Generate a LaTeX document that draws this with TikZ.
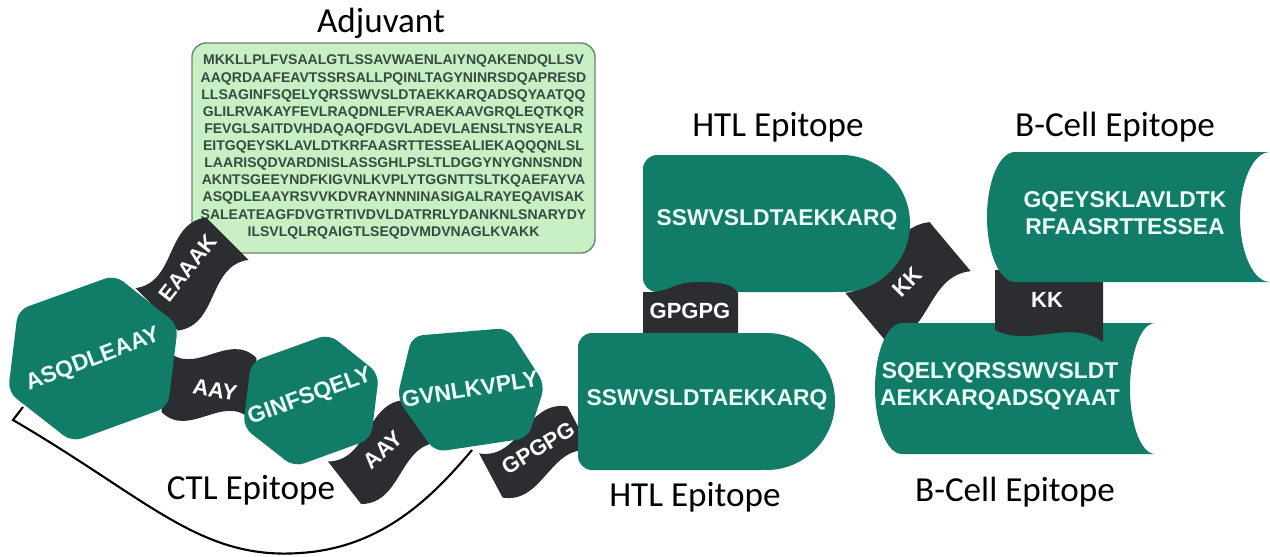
\documentclass[tikz,border=0pt]{standalone}
\usepackage{fontspec}
\setmainfont{Carlito}
\newfontfamily\seqfont{Liberation Sans}
\usepackage{tikz}

\definecolor{epigreen}{RGB}{17,124,104}
\definecolor{linkgray}{RGB}{43,45,49}
\definecolor{adjfill}{RGB}{200,240,196}
\definecolor{adjline}{RGB}{105,135,105}
\definecolor{adjtext}{RGB}{52,76,66}
\definecolor{seqwhite}{RGB}{236,255,248}

\begin{document}
\begin{tikzpicture}[x=0.02cm, y=-0.02cm]
    \tikzstyle{epiblock} = [fill=epigreen]
    \tikzstyle{linkblock} = [fill=linkgray]
    \tikzstyle{seqtext} = [text=seqwhite, font=\seqfont\bfseries\fontsize{13}{15.3}\selectfont, align=center, inner sep=0pt]
    \tikzstyle{linktext} = [text=white, font=\seqfont\bfseries\fontsize{12.5}{14}\selectfont, inner sep=0pt]
    \tikzstyle{headtext} = [font=\fontsize{20}{24}\selectfont, inner sep=0pt]
    \tikzstyle{adjbox} = [fill=adjfill, draw=adjline, line width=0.8pt, rounded corners=8]
    \tikzstyle{adjseq} = [text=adjtext, font=\seqfont\bfseries\fontsize{8}{9.75}\selectfont, align=center, inner sep=0pt]

    \useasboundingbox (0,0) rectangle (1270,556);

    % bracket under the CTL epitopes
    \coordinate (ctlA) at (23,407);
    \coordinate (ctlB) at (13,420);
    \coordinate (ctlC) at (300,553);
    \coordinate (ctlD) at (472,450);
    \draw[line width=1.2pt] (ctlA) -- (ctlB) .. controls (150,500) and (200,560) .. (ctlC)
        .. controls (380,548) and (430,500) .. (ctlD);

    % Adjuvant
    \draw[adjbox] (192,43) rectangle (595,253);
    \node[adjseq] (adjseq) at (393.5,147) {MKKLLPLFVSAALGTLSSAVWAENLAIYNQAKENDQLLSV\\
        AAQRDAAFEAVTSSRSALLPQINLTAGYNINRSDQAPRESD\\
        LLSAGINFSQELYQRSSWVSLDTAEKKARQADSQYAATQQ\\
        GLILRVAKAYFEVLRAQDNLEFVRAEKAAVGRQLEQTKQR\\
        FEVGLSAITDVHDAQAQFDGVLADEVLAENSLTNSYEALR\\
        EITGQEYSKLAVLDTKRFAASRTTESSEALIEKAQQQNLSL\\
        LAARISQDVARDNISLASSGHLPSLTLDGGYNYGNNSNDN\\
        AKNTSGEEYNDFKIGVNLKVPLYTGGNTTSLTKQAEFAYVA\\
        ASQDLEAAYRSVVKDVRAYNNNINASIGALRAYEQAVISAK\\
        SALEATEAGFDVGTRTIVDVLDATRRLYDANKNLSNARYDY\\
        ILSVLQLRQAIGTLSEQDVMDVNAGLKVAKK};

    % Linkers (under the blocks)
    \begin{scope}[shift={(192,274)}, rotate=45]
        \fill[linkblock] (-50,-30) .. controls (-17,-5) and (17,-55) .. (50,-30) -- (50,30) .. controls (17,5) and (-17,55) .. (-50,30) -- cycle;
    \end{scope}
    \begin{scope}[shift={(209,385)}, rotate=-5]
        \fill[linkblock] (-45,-31) .. controls (-15,-6) and (15,-56) .. (45,-31) -- (45,31) .. controls (15,6) and (-15,56) .. (-45,31) -- cycle;
    \end{scope}
    \begin{scope}[shift={(384,452)}, rotate=38]
        \fill[linkblock] (-50,-27) .. controls (-17,-2) and (17,-52) .. (50,-27) -- (50,27) .. controls (17,2) and (-17,52) .. (-50,27) -- cycle;
    \end{scope}
    \begin{scope}[shift={(535,452)}, rotate=28]
        \fill[linkblock] (-50,-25) .. controls (-17,0) and (17,-50) .. (50,-25) -- (50,25) .. controls (17,0) and (-17,50) .. (-50,25) -- cycle;
    \end{scope}
    \begin{scope}[shift={(908,282)}, rotate=40]
        \fill[linkblock] (-55,-32) .. controls (-18,-7) and (18,-57) .. (55,-32) -- (55,32) .. controls (18,7) and (-18,57) .. (-55,32) -- cycle;
    \end{scope}
    \node[linktext, rotate=52] (eaaak) at (188,268) {EAAAK};
    \node[linktext, rotate=-10] (aay1) at (215,390) {AAY};
    \node[linktext, rotate=42] (aay2) at (383,450) {AAY};
    \node[linktext, rotate=31] (gpgpg1) at (538,448) {GPGPG};
    \node[linktext, rotate=45] (kk1) at (907,282) {KK};

    % CTL epitopes
    \fill[epiblock, rounded corners=6] (18,310) -- (115,275) -- (178,325) -- (168,407) -- (72,442) -- (8,392) -- cycle;
    \fill[epiblock, rounded corners=6] (251,362) -- (329,334) -- (379,374) -- (371,439) -- (294,467) -- (243,427) -- cycle;
    \fill[epiblock, rounded corners=6] (412,336) -- (508,328) -- (545,385) -- (528,438) -- (435,452) -- (397,398) -- cycle;
    \node[seqtext, rotate=21] (ctl1) at (93,360) {ASQDLEAAY};
    \node[seqtext, rotate=20] (ctl2) at (310,397) {GINFSQELY};
    \node[seqtext, rotate=9] (ctl3) at (470,389) {GVNLKVPLY};

    % HTL epitopes
    \fill[epiblock, rounded corners=8] (643,155) rectangle (850,292);
    \fill[epiblock] (841.5,223.5) circle [radius=68.5];
    \node[seqtext] (htl1) at (777,220) {SSWVSLDTAEKKARQ};
    \fill[linkblock] (643,343) -- (643,292) .. controls (668,294) and (672,282) .. (698,282)
        .. controls (722,282) and (732,284) .. (738,293) -- (738,343) -- cycle;
    \node[linktext] (gpgpg2) at (690,311) {GPGPG};
    \fill[epiblock, rounded corners=8] (578,333) rectangle (775,470);
    \fill[epiblock] (766.5,401.5) circle [radius=68.5];
    \node[seqtext] (htl2) at (707,400) {SSWVSLDTAEKKARQ};

    % B-Cell epitopes
    \fill[epiblock] (902,323) -- (1155,323) .. controls (1141.2,323) and (1130,352.3) .. (1130,388.5)
        .. controls (1130,424.7) and (1141.2,454) .. (1155,454) -- (902,454)
        .. controls (887.1,454) and (875,424.7) .. (875,388.5) .. controls (875,352.3) and (887.1,323) .. (902,323) -- cycle;
    \node[seqtext] (bcell2) at (1000,386) {SQELYQRSSWVSLDT\\AEKKARQADSQYAAT};
    \fill[linkblock] (995,270) -- (1103,270) -- (1103,342) .. controls (1070,318) and (1030,348) .. (995,330) -- cycle;
    \node[linktext] (kk2) at (1047,300) {KK};
    \fill[epiblock] (1015,152) -- (1270,152) .. controls (1253.4,152) and (1240,181) .. (1240,217)
        .. controls (1240,253) and (1253.4,282) .. (1270,282) -- (1015,282)
        .. controls (999.5,282) and (987,253) .. (987,217) .. controls (987,181) and (999.5,152) .. (1015,152) -- cycle;
    \node[seqtext] (bcell1) at (1125,213) {GQEYSKLAVLDTK\\RFAASRTTESSEA};

    % Titles
    \node[headtext] (adjlabel) at (381,23) {Adjuvant};
    \node[headtext] (ctllabel) at (251,490) {CTL Epitope};
    \node[headtext] (htltop) at (778,127) {HTL Epitope};
    \node[headtext] (bcelltop) at (1115,127) {B-Cell Epitope};
    \node[headtext] (htlbot) at (695,497) {HTL Epitope};
    \node[headtext] (bcellbot) at (1015,492) {B-Cell Epitope};
\end{tikzpicture}
\end{document}
